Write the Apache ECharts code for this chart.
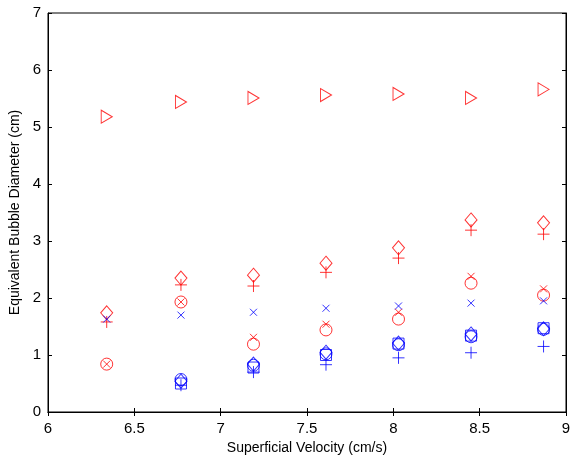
<!DOCTYPE html>
<html>
<head>
<meta charset="utf-8">
<script src="https://cdn.jsdelivr.net/npm/echarts@6/dist/echarts.min.js"></script>
<style>
  html, body { margin: 0; padding: 0; background: #fff; }
  #chart { width: 574px; height: 459px; }
</style>
</head>
<body>
<div id="chart"></div>
<script>
// superficial velocity (cm/s)
const velocity = [6.34, 6.77, 7.19, 7.61, 8.03, 8.45, 8.87];

// red series
const redTriangle = [5.18, 5.44, 5.51, 5.56, 5.58, 5.51, 5.66];
const redDiamond  = [1.74, 2.35, 2.40, 2.61, 2.88, 3.37, 3.32];
const redPlus     = [1.58, 2.23, 2.21, 2.45, 2.70, 3.19, 3.12];
const redCross    = [0.84, 1.93, 1.31, 1.54, 1.75, 2.38, 2.16];
const redCircle   = [0.84, 1.93, 1.19, 1.44, 1.63, 2.26, 2.05];

// blue series (first velocity only has the x marker)
const blueCross   = [1.63, 1.70, 1.75, 1.82, 1.86, 1.91, 1.95];
const blueCircle  = [null, 0.57, 0.82, 1.02, 1.18, 1.32, 1.45];
const blueSquare  = [null, 0.50, 0.78, 1.00, 1.20, 1.34, 1.47];
const blueDiamond = [null, 0.54, 0.84, 1.05, 1.21, 1.37, 1.46];
const bluePlus    = [null, 0.47, 0.70, 0.83, 0.95, 1.04, 1.15];

const xTicks = [6, 6.5, 7, 7.5, 8, 8.5, 9];

const RED = '#ff0000';
const BLUE = '#0000ff';
const PLUS = 'path://M0,5L10,5M5,0L5,10';
const CROSS = 'path://M0,0L10,10M10,0L0,10';

function pairs(values) {
    return velocity.map((v, i) => [v, values[i]]).filter(p => p[1] != null);
}

function markerSeries(values, color, symbol, size, rotate) {
    return {
        type: 'scatter',
        data: pairs(values),
        symbol: symbol,
        symbolSize: size,
        symbolRotate: rotate || 0,
        silent: true,
        itemStyle: {
            color: 'rgba(0,0,0,0)',
            borderColor: color,
            borderWidth: 1
        }
    };
}

const chart = echarts.init(document.getElementById('chart'), null, { renderer: 'canvas' });

const axisFont = { fontFamily: 'Liberation Sans', fontSize: 15, color: '#000' };

chart.setOption({
    animation: false,
    grid: {
        left: 48, right: 8, top: 13, bottom: 47,
        outerBoundsMode: 'none',
        show: true, borderColor: '#000', borderWidth: 1
    },
    xAxis: [{
        type: 'value',
        min: 6, max: 9, interval: 0.5,
        name: 'Superficial Velocity (cm/s)',
        nameLocation: 'middle',
        nameGap: 28,
        nameTextStyle: { fontFamily: 'Liberation Sans', fontSize: 14, color: '#000' },
        axisLine: { show: true, onZero: false, lineStyle: { color: '#000', width: 1 } },
        axisTick: { inside: true, length: 4, lineStyle: { color: '#000' } },
        axisLabel: Object.assign({ margin: 9 }, axisFont, {
            formatter: v => xTicks.indexOf(v) >= 0 ? String(v) : ''
        }),
        splitLine: { show: false }
    }, {
        type: 'value',
        position: 'top',
        min: 6, max: 9, interval: 0.5,
        axisLine: { show: true, lineStyle: { color: '#000' } },
        axisTick: { inside: true, length: 4, lineStyle: { color: '#000' } },
        axisLabel: { show: false },
        splitLine: { show: false }
    }],
    yAxis: [{
        type: 'value',
        min: 0, max: 7, interval: 1,
        name: 'Equivalent Bubble Diameter (cm)',
        nameLocation: 'middle',
        nameGap: 23,
        nameRotate: 90,
        nameTextStyle: { fontFamily: 'Liberation Sans', fontSize: 14, color: '#000' },
        axisLine: { show: true, onZero: false, lineStyle: { color: '#000', width: 1 } },
        axisTick: { inside: true, length: 4, lineStyle: { color: '#000' } },
        axisLabel: Object.assign({ margin: 7 }, axisFont),
        splitLine: { show: false }
    }, {
        type: 'value',
        position: 'right',
        min: 0, max: 7, interval: 1,
        axisLine: { show: true, lineStyle: { color: '#000' } },
        axisTick: { inside: true, length: 4, lineStyle: { color: '#000' } },
        axisLabel: { show: false },
        splitLine: { show: false }
    }],
    series: [
        markerSeries(redTriangle, RED, 'triangle', [13, 11], -90),
        markerSeries(redDiamond, RED, 'diamond', [12, 14]),
        markerSeries(redPlus, RED, PLUS, 12),
        markerSeries(redCross, RED, CROSS, 7),
        markerSeries(redCircle, RED, 'circle', 12),
        markerSeries(blueCross, BLUE, CROSS, 7),
        markerSeries(blueCircle, BLUE, 'circle', 12),
        markerSeries(blueSquare, BLUE, 'rect', 11),
        markerSeries(blueDiamond, BLUE, 'diamond', [12, 14]),
        markerSeries(bluePlus, BLUE, PLUS, 12)
    ]
});
</script>
</body>
</html>
